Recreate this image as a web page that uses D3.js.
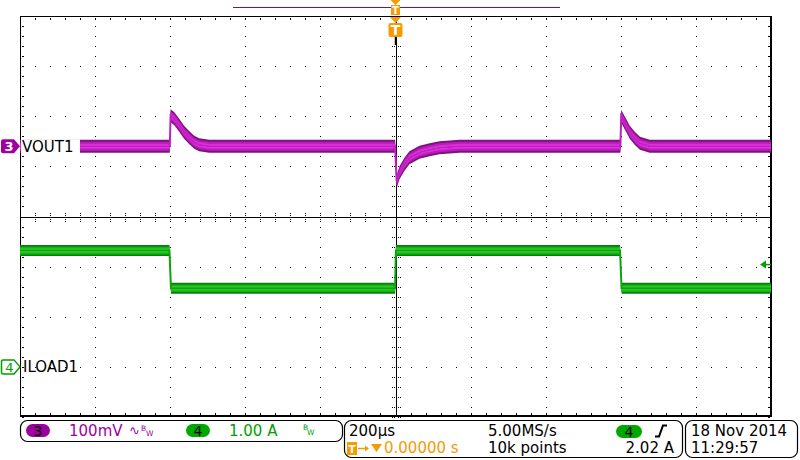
<!DOCTYPE html>
<html><head><meta charset="utf-8">
<script src="https://cdn.jsdelivr.net/npm/d3@7"></script>
<style>body{margin:0;background:#fff}svg{display:block}text{font-family:"DejaVu Sans",sans-serif}</style>
</head><body><svg id="c" width="800" height="460"></svg>
<script>
// ---------------- data ----------------
const timeDomainUs = [-1000, 1000];          // 200 µs/div, 10 divisions
const vertDomainDiv = [-4, 4];               // 8 vertical divisions
const ch3PosDiv = 1.4, ch3ScaleMv = 100;     // VOUT1 100 mV/div
const ch4PosDiv = -3,  ch4ScaleA = 1.0;      // ILOAD1 1.00 A/div
const triggerLevelA = 2.02;

// VOUT1 trace (time µs, deviation mV)
const voutTime = [-1000, -601, -599, -589, -576, -563, -549, -536, -523, -496, -400,
                  -1, 3, 11, 24, 37, 64, 91, 117, 171,
                  599, 601, 611, 624, 637, 651, 677, 1000];
const voutMv   = [0, 0, 61, 55, 42, 28, 17, 8, 3, 0, 0,
                  0, -70, -52, -36, -23, -12, -7, -3, 0,
                  0, 60, 46, 28, 16, 6, 0, 0];

// ILOAD1 trace (time µs, current A)
const iloadTime = [-1000, -602, -598, -1, 1, 598, 602, 1000];
const iloadA    = [2.32, 2.32, 1.57, 1.57, 2.32, 2.32, 1.57, 1.57];

const channelLabels = ["VOUT1", "ILOAD1"];
const channelIds = ["3", "4"];
const ch3Scale = "100mV", ch4Scale = "1.00 A";
const timebase = "200µs", sampleRate = "5.00MS/s", recordLen = "10k points";
const trigDelay = "0.00000 s", trigLevelText = "2.02 A";
const dateText = "18 Nov 2014", timeText = "11:29:57";

// ---------------- drawing ----------------
const svg = d3.select("#c");
const PURPLE = "#a000a0", GREEN = "#00a000", ORANGE = "#f59b00";

const x = d3.scaleLinear().domain(timeDomainUs).range([20, 771]);
const yDiv = d3.scaleLinear().domain(vertDomainDiv).range([417, 16]);
const y3 = v => yDiv(ch3PosDiv + v / ch3ScaleMv);
const y4 = a => yDiv(ch4PosDiv + a / ch4ScaleA);
const xDiv = d3.scaleLinear().domain([-5, 5]).range([20, 771]);

const grid = svg.append("g").attr("shape-rendering", "crispEdges");
const minorX = d3.range(-5, 5.001, 0.2);
const minorY = d3.range(-4, 4.001, 0.2);
const R = Math.round;

// dots on major interior grid lines
[-4,-3,-2,-1,1,2,3,4].forEach(k => {
  minorY.forEach(m => {
    if (Math.abs(m) > 3.99) return;
    grid.append("rect").attr("x", R(xDiv(k))).attr("y", R(yDiv(m))).attr("width", 1).attr("height", 1).attr("fill", "#000");
  });
});
[-3,-2,-1,1,2,3].forEach(j => {
  minorX.forEach(m => {
    if (Math.abs(m) > 4.99) return;
    grid.append("rect").attr("x", R(xDiv(m))).attr("y", R(yDiv(j))).attr("width", 1).attr("height", 1).attr("fill", "#000");
  });
});
// border ticks
minorX.forEach(m => {
  grid.append("rect").attr("x", R(xDiv(m))).attr("y", 18).attr("width", 1).attr("height", 2).attr("fill", "#000");
  grid.append("rect").attr("x", R(xDiv(m))).attr("y", 413).attr("width", 1).attr("height", 2).attr("fill", "#000");
});
minorY.forEach(m => {
  grid.append("rect").attr("x", 22).attr("y", R(yDiv(m))).attr("width", 2).attr("height", 1).attr("fill", "#000");
  grid.append("rect").attr("x", 768).attr("y", R(yDiv(m))).attr("width", 2).attr("height", 1).attr("fill", "#000");
});
// center lines with ticks
const cy = R(yDiv(0)), cx = R(xDiv(0));
grid.append("line").attr("x1", 20).attr("x2", 771).attr("y1", cy + 0.5).attr("y2", cy + 0.5).attr("stroke", "#000").attr("stroke-width", 1.5);
grid.append("line").attr("y1", 16).attr("y2", 417).attr("x1", cx + 0.5).attr("x2", cx + 0.5).attr("stroke", "#000").attr("stroke-width", 1.5);
minorX.forEach(m => {
  [-4,-2,2,4].forEach(d => grid.append("rect").attr("x", R(xDiv(m))).attr("y", cy + d).attr("width", 1).attr("height", 1).attr("fill", "#000"));
});
minorY.forEach(m => {
  [-4,-2,2,4].forEach(d => grid.append("rect").attr("x", cx + d).attr("y", R(yDiv(m))).attr("width", 1).attr("height", 1).attr("fill", "#000"));
});
// border
grid.append("rect").attr("x", 20.5).attr("y", 16.5).attr("width", 750.5).attr("height", 399.5)
  .attr("fill", "none").attr("stroke", "#000").attr("stroke-width", 1.6);

// ---- traces ----
function band(times, vals, yf, layers, edgeColor) {
  const pts = times.map((t, i) => [t, vals[i]]);
  const g = svg.append("g");
  layers.forEach(([half, col]) => {
    g.append("path").datum(pts)
      .attr("d", d3.area().x(d => x(d[0])).y0(d => yf(d[1]) - half).y1(d => yf(d[1]) + half))
      .attr("fill", col);
  });
  g.append("path").datum(pts)
    .attr("d", d3.line().x(d => x(d[0])).y(d => yf(d[1])))
    .attr("fill", "none").attr("stroke", edgeColor).attr("stroke-width", 2);
  return g;
}
band(voutTime, voutMv, y3, [[6.5, "#7d137d"], [4.5, "#b81cb8"], [2.5, "#dd2add"], [1, "#f76ef7"]], "#c020c0");
band(iloadTime, iloadA, y4, [[5.5, "#06800a"], [3.8, "#14b414"], [2, "#2ad82a"], [0.8, "#70f070"]], "#10a010");

// ---- channel markers & labels ----
const m3y = y3(0);
svg.append("rect").attr("x", 21).attr("y", m3y - 7).attr("width", 59).attr("height", 14).attr("fill", "#fff");
svg.append("path").attr("d", `M3,${m3y-7} H14 L20,${m3y} L14,${m3y+7} H3 Q1,${m3y+7} 1,${m3y+5} V${m3y-5} Q1,${m3y-7} 3,${m3y-7} Z`).attr("fill", PURPLE);
svg.append("text").attr("x", 9).attr("y", m3y + 5).attr("text-anchor", "middle").attr("font-size", 13).attr("font-weight", "bold").attr("fill", "#fff").text(channelIds[0]);
svg.append("text").attr("x", 22).attr("y", m3y + 6).attr("font-size", 15).attr("fill", "#000").text(channelLabels[0]);

const m4y = yDiv(ch4PosDiv);
svg.append("path").attr("d", `M3,${m4y-7} H14 L20,${m4y} L14,${m4y+7} H3 Q1.5,${m4y+7} 1.5,${m4y+5} V${m4y-5} Q1.5,${m4y-7} 3,${m4y-7} Z`).attr("fill", "#fff").attr("stroke", GREEN).attr("stroke-width", 1.5);
svg.append("text").attr("x", 9.5).attr("y", m4y + 5).attr("text-anchor", "middle").attr("font-size", 13).attr("fill", GREEN).text(channelIds[1]);
svg.append("text").attr("x", 23).attr("y", m4y + 5).attr("font-size", 15).attr("fill", "#000").text(channelLabels[1]);

// trigger level arrow (right)
const tly = y4(triggerLevelA) - 1;
svg.append("path").attr("d", `M760,${tly} L766,${tly-4} L766,${tly+4} Z`).attr("fill", GREEN);
svg.append("line").attr("x1", 765).attr("x2", 771).attr("y1", tly).attr("y2", tly).attr("stroke", GREEN).attr("stroke-width", 1.5);

// ---- top: record view bar and trigger position ----
svg.append("line").attr("x1", 233).attr("x2", 560).attr("y1", 7.5).attr("y2", 7.5).attr("stroke", "#7a107a").attr("stroke-width", 1);
const tx = x(0);
svg.append("path").attr("d", `M${tx-5},0 H${tx+5} L${tx},5 Z`).attr("fill", ORANGE);
svg.append("rect").attr("x", tx - 4.5).attr("y", 5).attr("width", 9).attr("height", 10).attr("fill", ORANGE);
svg.append("text").attr("x", tx).attr("y", 14).attr("text-anchor", "middle").attr("font-size", 10).attr("font-weight", "bold").attr("fill", "#fff").text("T");
svg.append("path").attr("d", `M${tx-5.5},17 H${tx+5.5} L${tx},23 Z`).attr("fill", ORANGE);
svg.append("rect").attr("x", tx - 7).attr("y", 23).attr("width", 14).attr("height", 14).attr("rx", 2).attr("fill", ORANGE);
svg.append("text").attr("x", tx).attr("y", 35).attr("text-anchor", "middle").attr("font-size", 14).attr("font-weight", "bold").attr("fill", "#fff").text("T");
svg.append("line").attr("x1", tx).attr("x2", tx).attr("y1", 37).attr("y2", 45).attr("stroke", "#000").attr("stroke-width", 1.5);

// ---- status bar ----
const sb = svg.append("g");
const box = (x0, y0, w, h) => sb.append("rect").attr("x", x0).attr("y", y0).attr("width", w).attr("height", h).attr("rx", 7).attr("fill", "#fff").attr("stroke", "#000").attr("stroke-width", 1.2);
box(20.5, 420.5, 322, 21);
box(344.5, 420.5, 338, 37);
box(685.5, 420.5, 112, 37);
const pill = (x0, y0, w, col, t) => {
  sb.append("rect").attr("x", x0).attr("y", y0).attr("width", w).attr("height", 13).attr("rx", 6.5).attr("fill", col);
  sb.append("text").attr("x", x0 + w / 2).attr("y", y0 + 11.5).attr("text-anchor", "middle").attr("font-size", 14).attr("fill", "#000").text(t);
};
const txt = (x0, y0, t, col, size, anchor) => sb.append("text").attr("x", x0).attr("y", y0).attr("font-size", size || 15).attr("fill", col).attr("text-anchor", anchor || "start").text(t);
pill(26, 424, 24, "#9c009c", channelIds[0]);
txt(69, 436, ch3Scale, PURPLE);
txt(129, 435, "∿", PURPLE, 13);
txt(141, 431, "B", PURPLE, 7.5);
txt(146, 436, "W", PURPLE, 7.5);
pill(186, 424, 24, "#00a800", channelIds[1]);
txt(229, 436, ch4Scale, GREEN);
txt(303, 430, "B", GREEN, 7.5);
txt(307, 435, "W", GREEN, 7.5);

txt(349, 436, timebase, "#000");
txt(488, 436, sampleRate, "#000");
txt(488, 453, recordLen, "#000");
pill(616, 425, 26, "#00a800", channelIds[1]);
sb.append("path").attr("d", "M655,436.5 H659 L663,425.5 H667").attr("fill", "none").attr("stroke", "#000").attr("stroke-width", 2);
txt(674, 453, trigLevelText, "#000", 15, "end");
// trigger delay line
sb.append("rect").attr("x", 347).attr("y", 442).attr("width", 10).attr("height", 13).attr("fill", ORANGE);
sb.append("text").attr("x", 352).attr("y", 453).attr("text-anchor", "middle").attr("font-size", 11).attr("font-weight", "bold").attr("fill", "#fff").text("T");
sb.append("line").attr("x1", 358).attr("x2", 367).attr("y1", 448.5).attr("y2", 448.5).attr("stroke", ORANGE).attr("stroke-width", 1.5);
sb.append("path").attr("d", "M365,445.5 L369,448.5 L365,451.5 Z").attr("fill", ORANGE);
sb.append("path").attr("d", "M371,444 H382 L376.5,452 Z").attr("fill", ORANGE);
txt(384, 453, trigDelay, ORANGE);

txt(691, 436, dateText, "#000");
txt(691, 453, timeText, "#000");
</script></body></html>
